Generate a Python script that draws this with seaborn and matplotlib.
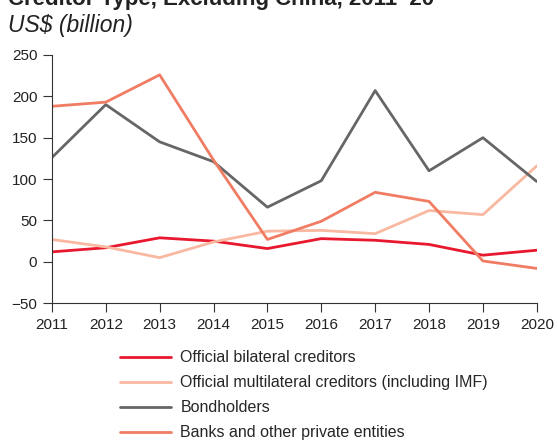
import pandas as pd
import numpy as np
import matplotlib
matplotlib.use("Agg")
import matplotlib.pyplot as plt
import seaborn as sns

years = [2011, 2012, 2013, 2014, 2015, 2016, 2017, 2018, 2019, 2020]
bilateral = [12, 17, 29, 25, 16, 28, 26, 21, 8, 14]
multilateral = [27, 18, 5, 24, 37, 38, 34, 62, 57, 116]
bondholders = [126, 190, 145, 121, 66, 98, 207, 110, 150, 97]
banks = [188, 193, 226, 123, 27, 49, 84, 73, 1, -8]

series_names = [
    "Official bilateral creditors",
    "Official multilateral creditors (including IMF)",
    "Bondholders",
    "Banks and other private entities",
]
colors = ["#e8182e", "#f9b8a1", "#666666", "#f07c63"]

df = pd.DataFrame({
    "Year": years * 4,
    "Value": bilateral + multilateral + bondholders + banks,
    "Series": np.repeat(series_names, len(years)),
})

sns.set_style("ticks")
plt.rcParams["font.family"] = ["Liberation Sans", "DejaVu Sans"]

fig = plt.figure(figsize=(5.58, 4.4), dpi=100)
ax = fig.add_axes([0.093, 0.311, 0.869, 0.564])

sns.lineplot(data=df, x="Year", y="Value", hue="Series", hue_order=series_names,
             palette=colors, linewidth=2, ax=ax)

ax.set_xlim(2011, 2020)
ax.set_ylim(-50, 250)
ax.set_xticks(years)
ax.set_yticks([-50, 0, 50, 100, 150, 200, 250])
ax.set_yticklabels(["\u221250", "0", "50", "100", "150", "200", "250"])
ax.set_xlabel("")
ax.set_ylabel("")
ax.tick_params(labelsize=11, length=6.5, color="#333333", labelcolor="#222222")
ax.tick_params(axis="y", pad=4)
ax.tick_params(axis="x", pad=4)
for s in ["left", "bottom"]:
    ax.spines[s].set_color("#333333")
sns.despine(ax=ax)

fig.text(0.015, 1 - 5 / 440, "Creditor Type, Excluding China, 2011\u201320", fontsize=16,
         fontweight="bold", va="baseline", ha="left", color="#222222")
fig.text(0.015, 1 - 32 / 440, "US$ (billion)", fontsize=16.5, style="italic",
         va="baseline", ha="left", color="#222222")

handles, labels = ax.get_legend_handles_labels()
ax.legend(handles, labels, loc="upper left", bbox_to_anchor=(0.203, 0.218),
          bbox_transform=fig.transFigure, frameon=False, fontsize=11.5,
          handlelength=3.2, handletextpad=0.6, labelspacing=0.62,
          borderaxespad=0)

fig.savefig("out.png", dpi=100)
